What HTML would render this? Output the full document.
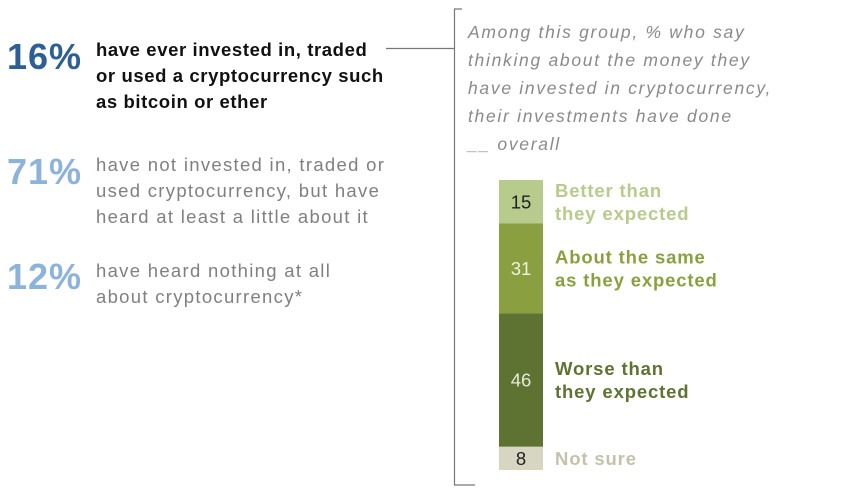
<!DOCTYPE html>
<html><head><meta charset="utf-8"><style>
body{margin:0;width:853px;height:496px;background:#fff;overflow:hidden;font-family:"Liberation Sans",sans-serif;position:relative}
.a{position:absolute}
.pct{position:absolute;left:7px;font-size:36px;font-weight:bold;letter-spacing:1px}
.desc{position:absolute;left:96px;font-size:18.5px;line-height:26px}
.it{position:absolute;left:468px;top:18px;font-size:17.5px;line-height:28px;font-style:italic;color:#8a8a8a;letter-spacing:1.7px}
</style></head><body>
<div class="pct" style="top:36px;color:#2d5f96">16%</div>
<div class="desc" style="top:37px;font-weight:bold;color:#111;letter-spacing:0.6px">have ever invested in, traded<br>or used a cryptocurrency such<br>as bitcoin or ether</div>
<div class="pct" style="top:151px;color:#8db3da">71%</div>
<div class="desc" style="top:152px;color:#808080;letter-spacing:1.3px">have not invested in, traded or<br>used cryptocurrency, but have<br>heard at least a little about it</div>
<div class="pct" style="top:256px;color:#8db3da">12%</div>
<div class="desc" style="top:258px;color:#808080;letter-spacing:1.3px">have heard nothing at all<br>about cryptocurrency*</div>
<div class="it">Among this group, % who say<br>thinking about the money they<br>have invested in cryptocurrency,<br>their investments have done<br>__ overall</div>
<svg class="a" style="left:0;top:0" width="853" height="496" id="chart">
<line x1="386" y1="48.5" x2="454" y2="48.5" stroke="#777" stroke-width="1.2"/>
<polyline points="462,9 454.5,9 454.5,485 475,485" fill="none" stroke="#777" stroke-width="1.2"/>
</svg>
<script>
const categories=["Better than|they expected","About the same|as they expected","Worse than|they expected","Not sure"];
const values=[15,31,46,8];
const barColors=["#b7cb8c","#8aa040","#5e7332","#d8d6c2"];
const labelColors=["#b7cb8c","#8aa040","#5e7332","#c4c2ac"];
const numColors=["#222","#eef2e0","#e6ead8","#222"];
const y0=180,scale=2.9,bx=499,bw=44;
const y=v=>y0+v*scale;
const svg=document.getElementById('chart');
const NS="http://www.w3.org/2000/svg";
let cum=0;
values.forEach((v,i)=>{
  const r=document.createElementNS(NS,'rect');
  r.setAttribute('x',bx);r.setAttribute('y',y(cum));r.setAttribute('width',bw);r.setAttribute('height',y(cum+v)-y(cum));r.setAttribute('fill',barColors[i]);
  
  
  svg.appendChild(r);
  const mid=(y(cum)+y(cum+v))/2;
  const t=document.createElementNS(NS,'text');
  t.setAttribute('x',bx+bw/2);t.setAttribute('y',mid+6.5);t.setAttribute('text-anchor','middle');t.setAttribute('font-size','18.5');t.setAttribute('fill',numColors[i]);t.setAttribute('font-family','Liberation Sans, sans-serif');
  t.textContent=v;
  
  
  svg.appendChild(t);
  const lines=categories[i].split('|');
  const lt=document.createElementNS(NS,'text');
  lt.setAttribute('font-size','18.5');lt.setAttribute('font-weight','bold');lt.setAttribute('fill',labelColors[i]);lt.setAttribute('font-family','Liberation Sans, sans-serif');lt.setAttribute('letter-spacing','0.85');
  
  
  const start=mid+6.5-(lines.length-1)*11.5;
  lines.forEach((s,j)=>{const ts=document.createElementNS(NS,'tspan');ts.setAttribute('x',555);ts.setAttribute('y',start+j*23);ts.textContent=s;lt.appendChild(ts);});
  svg.appendChild(lt);
  cum+=v;
});
</script>
</body></html>
